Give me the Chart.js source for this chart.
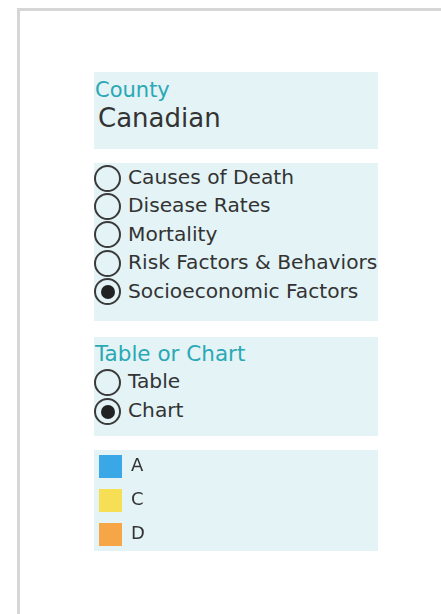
<!DOCTYPE html>
<html>
<head>
<meta charset="utf-8">
<script src="https://cdn.jsdelivr.net/npm/chart.js@4.4.1/dist/chart.umd.min.js"></script>
<style>
    html, body { margin: 0; padding: 0; width: 441px; height: 614px; overflow: hidden; background: #fff; }
    body { position: relative; font-family: "DejaVu Sans", Verdana, sans-serif; color: #333; }
    .frame { position: absolute; left: 17px; top: 8px; width: 600px; height: 800px; border: 3px solid #d6d6d6; box-sizing: border-box; }
    .panel { position: absolute; left: 94px; width: 284px; background: #e3f3f6; }
    .txt { position: absolute; white-space: nowrap; }
    .head { color: #2aa8b5; font-size: 21px; line-height: 24px; }
    .row { position: absolute; left: 94px; font-size: 20.2px; white-space: nowrap; padding-left: 34px; }
    .radio { position: absolute; left: 0px; width: 27px; height: 27px; border: 2px solid #3a3a3a; border-radius: 50%; box-sizing: border-box; }
    .radio.on::after { content: ""; position: absolute; left: 4.5px; top: 4.5px; width: 14px; height: 14px; border-radius: 50%; background: #222; }
    #legendChart { position: absolute; left: 88px; top: 444px; }
</style>
</head>
<body>
<div class="frame"></div>

<div class="panel" style="top:72px;height:77px"></div>
<div class="panel" style="top:163px;height:158px"></div>
<div class="panel" style="top:337px;height:99px"></div>
<div class="panel" style="top:450px;height:101px"></div>

<div class="txt head" style="left:95px;top:78px">County</div>
<div class="txt" style="left:98px;top:103px;font-size:26px;line-height:30px">Canadian</div>

<div id="topics"></div>

<div class="txt head" style="left:95px;top:342px;font-size:21.5px">Table or Chart</div>
<div id="views"></div>

<canvas id="legendChart" width="284" height="140"></canvas>

<script>
    // sidebar choices
    const topics = ['Causes of Death', 'Disease Rates', 'Mortality', 'Risk Factors & Behaviors', 'Socioeconomic Factors'];
    const topicPicked = 'Socioeconomic Factors';
    const views = ['Table', 'Chart'];
    const viewPicked = 'Chart';

    // chart series (only legend shown)
    const categories = [];
    const seriesNames = ['A', 'C', 'D'];
    const seriesA = [];
    const seriesC = [];
    const seriesD = [];
    const seriesColors = ['#3aa8e7', '#f6de55', '#f7a647'];

    function addRows(id, items, picked, top, step) {
        var box = document.getElementById(id);
        items.forEach(function (name, i) {
            var row = document.createElement('div');
            row.className = 'row';
            row.style.top = (top + i * step) + 'px';
            row.style.lineHeight = step + 'px';
            var r = document.createElement('span');
            r.className = 'radio' + (name === picked ? ' on' : '');
            r.style.top = (step / 2 - 12.5) + 'px';
            row.appendChild(r);
            row.appendChild(document.createTextNode(name));
            box.appendChild(row);
        });
    }
    addRows('topics', topics, topicPicked, 163, 28.4);
    addRows('views', views, viewPicked, 367, 29);

    const ctx = document.getElementById('legendChart');
    const values = [seriesA, seriesC, seriesD];

    new Chart(ctx, {
        type: 'bar',
        data: {
            labels: categories,
            datasets: seriesNames.map(function (name, i) {
                return {
                    label: name,
                    data: values[i],
                    backgroundColor: seriesColors[i],
                    borderWidth: 0
                };
            })
        },
        options: {
            responsive: false,
            animation: false,
            layout: { padding: 0 },
            plugins: {
                legend: {
                    position: 'left',
                    align: 'start',
                    labels: {
                        boxWidth: 23,
                        boxHeight: 23,
                        padding: 11,
                        color: '#333',
                        font: { family: 'DejaVu Sans', size: 18 }
                    }
                },
                tooltip: { enabled: false }
            },
            scales: {
                x: { display: false },
                y: { display: false }
            }
        }
    });
</script>
</body>
</html>
